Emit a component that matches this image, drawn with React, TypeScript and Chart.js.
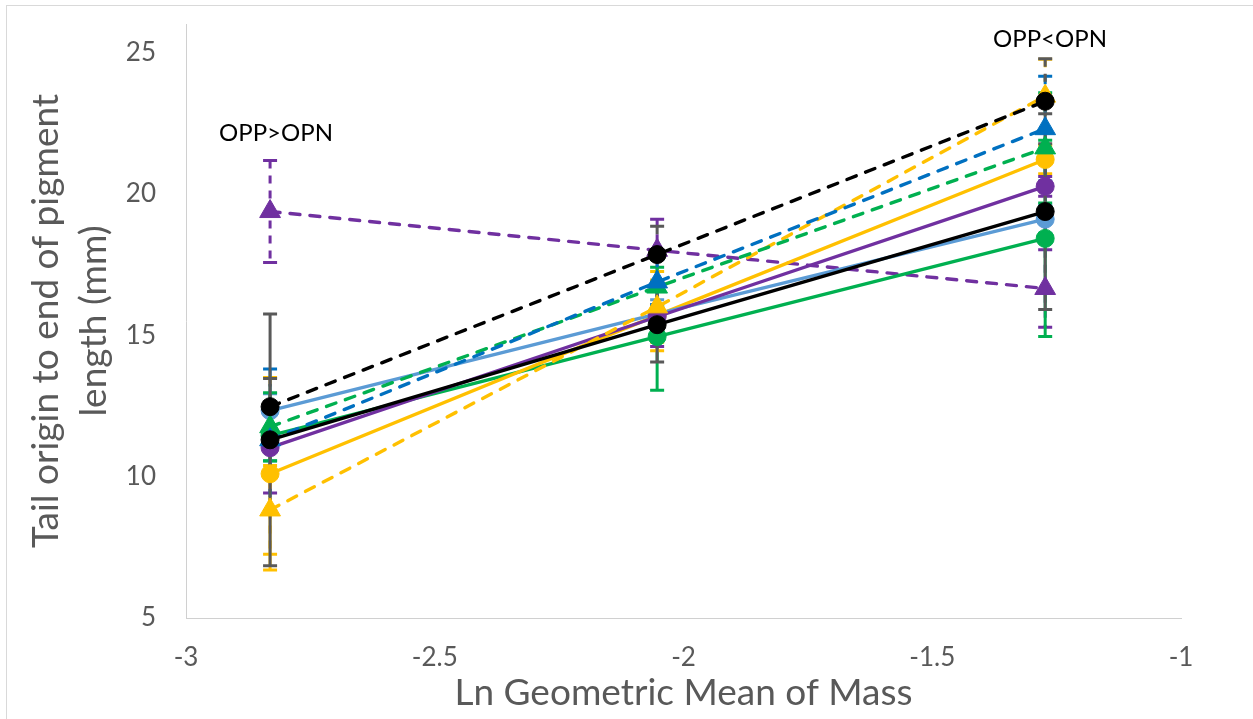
import React, { useEffect, useRef } from "react";
import { Chart, registerables } from "chart.js";

Chart.register(...registerables);

// x positions: ln of the geometric mean of mass for each size class
const massLn = [-2.831, -2.053, -1.273];

// axis tick labels
const xTickValues = [-3, -2.5, -2, -1.5, -1];
const yTickValues = [5, 10, 15, 20, 25];

// series means (mm) and their error bar half-widths
const blackDashed = [12.47, 17.85, 23.27];
const blackDashedErr = [1.0, 1.0, 1.5];
const blackSolid = [11.3, 15.37, 19.37];
const blackSolidErr = [4.45, 1.32, 3.46];
const blueDashed = [11.3, 16.88, 22.3];
const blueDashedErr = [2.5, 0.8, 1.85];
const greenDashed = [11.76, 16.7, 21.62];
const greenDashedErr = [1.2, 0.7, 1.95];
const yellowDashed = [8.82, 16.0, 23.45];
const yellowDashedErr = [1.57, 1.25, 1.3];
const purpleSolid = [11.02, 15.65, 20.26];
const purpleSolidErr = [1.6, 1.05, 0.35];
const lightBlueSolid = [12.33, 15.75, 19.1];
const lightBlueSolidErr = [0.6, 0.5, 0.5];
const yellowSolid = [10.1, 15.7, 21.21];
const yellowSolidErr = [3.4, 1.25, 0.5];
const greenSolid = [11.45, 14.95, 18.42];
const greenSolidErr = [0.9, 1.9, 3.47];
const purpleDashed = [19.37, 18.0, 16.65];
const purpleDashedErr = [1.8, 1.1, 1.37];

const BLACK = "#000000";
const GREY = "#595959";
const BLUE = "#0070C0";
const LIGHT_BLUE = "#5B9BD5";
const GREEN = "#00B050";
const YELLOW = "#FFC000";
const PURPLE = "#7030A0";

const DASH = [10, 10];

function series(
  label: string,
  values: number[],
  errors: number[],
  color: string,
  dashed: boolean,
  marker: "circle" | "triangle",
  errorColor?: string
) {
  return {
    label,
    data: values.map((v, i) => ({ x: massLn[i], y: v })),
    errors,
    errorColor: errorColor || color,
    dashedErrors: dashed,
    borderColor: color,
    backgroundColor: color,
    borderWidth: 3.4,
    borderDash: dashed ? DASH : [],
    borderCapStyle: dashed ? "round" : "butt",
    pointStyle: marker,
    pointRadius: marker === "circle" ? 9 : 12,
    pointBorderWidth: 1,
    pointBackgroundColor: color,
    pointBorderColor: color,
    tension: 0,
    fill: false,
  };
}

// vertical error bars with caps, drawn underneath the markers
const errorBarPlugin = {
  id: "errorBars",
  beforeDatasetsDraw(chart: any) {
    const { ctx } = chart;
    const xs = chart.scales.x;
    const ys = chart.scales.y;
    const list = chart.data.datasets;
    for (let i = list.length - 1; i >= 0; i--) {
      const ds: any = list[i];
      ctx.save();
      ctx.strokeStyle = ds.errorColor;
      ctx.lineWidth = 3;
      ds.data.forEach((pt: any, j: number) => {
        const e = ds.errors[j];
        const px = xs.getPixelForValue(pt.x);
        const top = ys.getPixelForValue(pt.y + e);
        const bottom = ys.getPixelForValue(pt.y - e);
        ctx.setLineDash(ds.dashedErrors ? [8, 7] : []);
        ctx.beginPath();
        ctx.moveTo(px, top);
        ctx.lineTo(px, bottom);
        ctx.stroke();
        ctx.setLineDash([]);
        ctx.beginPath();
        ctx.moveTo(px - 7, top);
        ctx.lineTo(px + 7, top);
        ctx.moveTo(px - 7, bottom);
        ctx.lineTo(px + 7, bottom);
        ctx.stroke();
      });
      ctx.restore();
    }
  },
};

// outer frame, axis titles and the two comparison notes
const decorPlugin = {
  id: "decor",
  beforeDraw(chart: any) {
    const { ctx } = chart;
    ctx.save();
    ctx.fillStyle = "#ffffff";
    ctx.fillRect(0, 0, chart.width, chart.height);
    ctx.strokeStyle = "#d9d9d9";
    ctx.lineWidth = 1;
    ctx.strokeRect(6.5, 5.5, 1300, 760);
    ctx.restore();
  },
  afterDraw(chart: any) {
    const { ctx, chartArea } = chart;
    ctx.save();
    ctx.fillStyle = GREY;
    ctx.font = "37px Lato";
    ctx.textAlign = "center";
    ctx.textBaseline = "middle";
    ctx.fillText("Ln Geometric Mean of Mass", (chartArea.left + chartArea.right) / 2, 693);

    const midY = (chartArea.top + chartArea.bottom) / 2;
    ctx.translate(0, midY);
    ctx.rotate(-Math.PI / 2);
    ctx.font = "37px Lato";
    ctx.fillText("Tail origin to end of pigment", 0, 46);
    ctx.fillText("length (mm)", 0, 94);
    ctx.restore();

    ctx.save();
    ctx.fillStyle = "#000000";
    ctx.font = "24px Lato";
    ctx.textAlign = "center";
    ctx.textBaseline = "middle";
    ctx.fillText("OPP>OPN", 276, 133);
    ctx.fillText("OPP<OPN", 1050, 39);
    ctx.restore();
  },
};

export default function App() {
  const canvasRef = useRef<HTMLCanvasElement | null>(null);

  useEffect(() => {
    document.body.style.margin = "0";
    const canvas = canvasRef.current;
    if (!canvas) return;

    const datasets: any[] = [
      series("Black dashed", blackDashed, blackDashedErr, BLACK, true, "circle", GREY),
      series("Black solid", blackSolid, blackSolidErr, BLACK, false, "circle", GREY),
      series("Blue dashed", blueDashed, blueDashedErr, BLUE, true, "triangle"),
      series("Green dashed", greenDashed, greenDashedErr, GREEN, true, "triangle"),
      series("Yellow dashed", yellowDashed, yellowDashedErr, YELLOW, true, "triangle"),
      series("Purple solid", purpleSolid, purpleSolidErr, PURPLE, false, "circle"),
      series("Light blue solid", lightBlueSolid, lightBlueSolidErr, LIGHT_BLUE, false, "circle"),
      series("Yellow solid", yellowSolid, yellowSolidErr, YELLOW, false, "circle"),
      series("Green solid", greenSolid, greenSolidErr, GREEN, false, "circle"),
      series("Purple dashed", purpleDashed, purpleDashedErr, PURPLE, true, "triangle"),
    ];

    const chart = new Chart(canvas, {
      type: "line",
      data: { datasets },
      plugins: [errorBarPlugin, decorPlugin],
      options: {
        responsive: false,
        animation: false,
        layout: { padding: { top: 24, right: 72, left: 0, bottom: 0 } },
        plugins: {
          legend: { display: false },
          tooltip: { enabled: false },
        },
        scales: {
          x: {
            type: "linear",
            min: -3,
            max: -1,
            grid: { display: false, drawTicks: false },
            border: { display: true, color: "#d0d0d0", width: 1 },
            ticks: {
              padding: 24,
              color: GREY,
              font: { family: "Lato", size: 26 },
              maxRotation: 0,
              callback: (v: any) => String(v),
            },
            afterBuildTicks(scale: any) {
              scale.ticks = xTickValues.map((v) => ({ value: v }));
            },
            afterFit(scale: any) {
              scale.height = 101;
              scale.paddingLeft = 0;
              scale.paddingRight = 0;
            },
          },
          y: {
            type: "linear",
            min: 5,
            max: 26,
            grid: { display: false, drawTicks: false },
            border: { display: true, color: "#d0d0d0", width: 1 },
            ticks: {
              padding: 30,
              color: GREY,
              font: { family: "Lato", size: 26 },
              callback: (v: any) => String(v),
            },
            afterBuildTicks(scale: any) {
              scale.ticks = yTickValues.map((v) => ({ value: v }));
            },
            afterFit(scale: any) {
              scale.width = 186;
              scale.paddingTop = 0;
              scale.paddingBottom = 0;
            },
          },
        },
      },
    });

    return () => chart.destroy();
  }, []);

  return (
    <div style={{ width: 1253, height: 719, position: "relative" }}>
      <canvas ref={canvasRef} width={1253} height={719} />
    </div>
  );
}
